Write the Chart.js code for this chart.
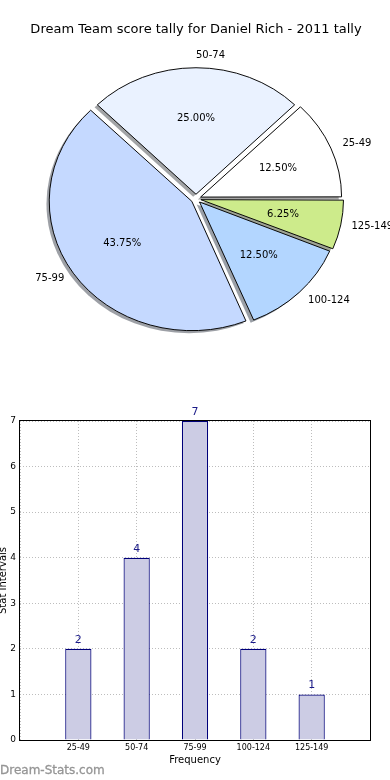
<!DOCTYPE html>
<html>
<head>
<meta charset="utf-8">
<script src="https://cdn.jsdelivr.net/npm/chart.js@4.4.1/dist/chart.umd.min.js"></script>
<style>
  html, body { margin: 0; padding: 0; background: #fff; }
  body { width: 390px; height: 780px; position: relative; overflow: hidden; font-family: "DejaVu Sans", sans-serif; }
  #pieBox { position: absolute; left: 0; top: 0; width: 390px; height: 360px; }
  #barBox { position: absolute; left: 0; top: 380px; width: 390px; height: 400px; }
  #brand { position: absolute; left: 0; top: 762px; font-size: 12px; line-height: 16px; color: #959595; -webkit-text-stroke: 0.3px #959595; }
</style>
</head>
<body>
<div id="pieBox"><canvas id="pieChart" width="390" height="360"></canvas></div>
<div id="barBox"><canvas id="barChart" width="390" height="400"></canvas></div>
<div id="brand">Dream-Stats.com</div>
<script>
// data
const categories = ['25-49', '50-74', '75-99', '100-124', '125-149'];
const frequencies = [2, 4, 7, 2, 1];
const sliceColors = ['#ffffff', '#eaf2ff', '#c5d9ff', '#b3d6ff', '#cdeb8b'];
const pieTitle = 'Dream Team score tally for Daniel Rich - 2011 tally';
const yTitle = 'Stat Intervals';
const xTitle = 'Frequency';

const FONT = '"DejaVu Sans", sans-serif';
const SCALE_Y = 0.907;   // the pie is drawn a bit squashed

// matplotlib goes counter clockwise from east, chart.js clockwise -> reverse
const pieLabels = categories.slice().reverse();
const pieValues = frequencies.slice().reverse();
const pieColors = sliceColors.slice().reverse();
const total = frequencies.reduce((a, b) => a + b, 0);

const shadowOf = (hex) => {
    const n = parseInt(hex.slice(1), 16);
    const r = Math.round(((n >> 16) & 255) * 0.3);
    const g = Math.round(((n >> 8) & 255) * 0.3);
    const b = Math.round((n & 255) * 0.3);
    return `rgba(${r}, ${g}, ${b}, 0.5)`;
};

const pieExtras = {
    id: 'pieExtras',
    beforeDatasetsDraw(chart) {
        const ctx = chart.ctx;
        const arcs = chart.getDatasetMeta(0).data;
        const cy = arcs[0].y;
        ctx.save();
        ctx.translate(0, cy);
        ctx.scale(1, SCALE_Y);
        ctx.translate(0, -cy);
        // shadows under every wedge
        arcs.forEach((arc, i) => {
            const off = arc.options.offset / 4;
            const mid = (arc.startAngle + arc.endAngle) / 2;
            const r = arc.outerRadius + off * (1 - Math.sin(Math.min(Math.PI, arc.circumference)));
            const sx = arc.x + Math.cos(mid) * off - 2.8;
            const sy = arc.y + Math.sin(mid) * off + 2.8;
            ctx.beginPath();
            ctx.moveTo(sx, sy);
            ctx.arc(sx, sy, r, arc.startAngle, arc.endAngle);
            ctx.closePath();
            ctx.fillStyle = shadowOf(pieColors[i]);
            ctx.fill();
        });
    },
    afterDatasetsDraw(chart) {
        const ctx = chart.ctx;
        ctx.restore();
        const arcs = chart.getDatasetMeta(0).data;
        ctx.save();
        ctx.font = `10px ${FONT}`;
        ctx.fillStyle = '#000';
        ctx.textBaseline = 'middle';
        arcs.forEach((arc, i) => {
            const off = arc.options.offset / 4;
            const mid = (arc.startAngle + arc.endAngle) / 2;
            const cos = Math.cos(mid), sin = Math.sin(mid);
            const R = arc.outerRadius;
            const lr = R * 1.1 + off;
            ctx.textAlign = cos > -1e-6 ? 'left' : 'right';
            ctx.fillText(pieLabels[i], arc.x + cos * lr, arc.y + sin * lr * SCALE_Y);
            const pr = R * 0.6 + off;
            ctx.textAlign = 'center';
            const pct = (pieValues[i] / total * 100).toFixed(2) + '%';
            ctx.fillText(pct, arc.x + cos * pr, arc.y + sin * pr * SCALE_Y);
        });
        ctx.restore();
    }
};

new Chart(document.getElementById('pieChart'), {
    type: 'pie',
    data: {
        labels: pieLabels,
        datasets: [{
            data: pieValues,
            backgroundColor: pieColors,
            borderColor: '#000',
            borderWidth: 1,
            offset: 20,
            radius: 139.5
        }]
    },
    options: {
        responsive: false,
        animation: false,
        rotation: 90,
        layout: { padding: { left: 2, right: 0, top: 0, bottom: 0 } },
        plugins: {
            legend: { display: false },
            tooltip: { enabled: false },
            title: {
                display: true,
                text: pieTitle,
                color: '#000',
                font: { family: FONT, size: 13, weight: 'normal' },
                padding: { top: 22, bottom: 0 }
            }
        }
    },
    plugins: [pieExtras]
});

const barExtras = {
    id: 'barExtras',
    afterDatasetsDraw(chart) {
        const ctx = chart.ctx;
        const bars = chart.getDatasetMeta(0).data;
        ctx.save();
        ctx.font = `11px ${FONT}`;
        ctx.fillStyle = '#1a1a88';
        ctx.textAlign = 'center';
        ctx.textBaseline = 'middle';
        bars.forEach((bar, i) => ctx.fillText(String(frequencies[i]), bar.x, bar.y - 9));
        ctx.restore();
    },
    afterDraw(chart) {
        const { ctx, chartArea: a } = chart;
        ctx.save();
        ctx.strokeStyle = '#000';
        ctx.lineWidth = 1;
        ctx.strokeRect(a.left - 0.5, a.top - 0.5, a.right - a.left + 1, a.bottom - a.top + 1);
        ctx.restore();
    }
};

new Chart(document.getElementById('barChart'), {
    type: 'bar',
    data: {
        datasets: [{
            data: categories.map((c, i) => ({ x: i, y: frequencies[i] })),
            backgroundColor: '#cccce4',
            borderColor: '#00007a',
            borderWidth: 1.2,
            barPercentage: 0.45,
            categoryPercentage: 1
        }]
    },
    options: {
        responsive: false,
        animation: false,
        layout: { padding: { left: 0, right: 20, top: 41, bottom: 0 } },
        plugins: { legend: { display: false }, tooltip: { enabled: false } },
        scales: {
            x: {
                type: 'linear',
                min: -1,
                max: 5,
                offset: false,
                z: 1,
                afterFit: (s) => { s.height = 40; },
                ticks: {
                    stepSize: 1,
                    autoSkip: false,
                    maxRotation: 0,
                    padding: 3,
                    color: '#000',
                    font: { family: FONT, size: 8 },
                    callback: (v) => categories[v] ?? ''
                },
                grid: { offset: false, color: '#bdbdbd', lineWidth: 1, drawTicks: false },
                border: { display: false, dash: [1, 2] },
                title: {
                    display: true,
                    text: xTitle,
                    color: '#000',
                    font: { family: FONT, size: 10 },
                    padding: { top: 0, bottom: 14 }
                }
            },
            y: {
                min: 0,
                max: 7,
                z: 1,
                afterFit: (s) => { s.width = 20; },
                ticks: {
                    stepSize: 1,
                    padding: 4,
                    color: '#000',
                    font: { family: FONT, size: 9 }
                },
                grid: { color: '#bdbdbd', lineWidth: 1, drawTicks: false },
                border: { display: false, dash: [1, 2] },
                title: {
                    display: true,
                    text: yTitle,
                    color: '#000',
                    font: { family: FONT, size: 10 },
                    padding: { top: -2.5, bottom: 0 }
                }
            }
        }
    },
    plugins: [barExtras]
});
</script>
</body>
</html>
